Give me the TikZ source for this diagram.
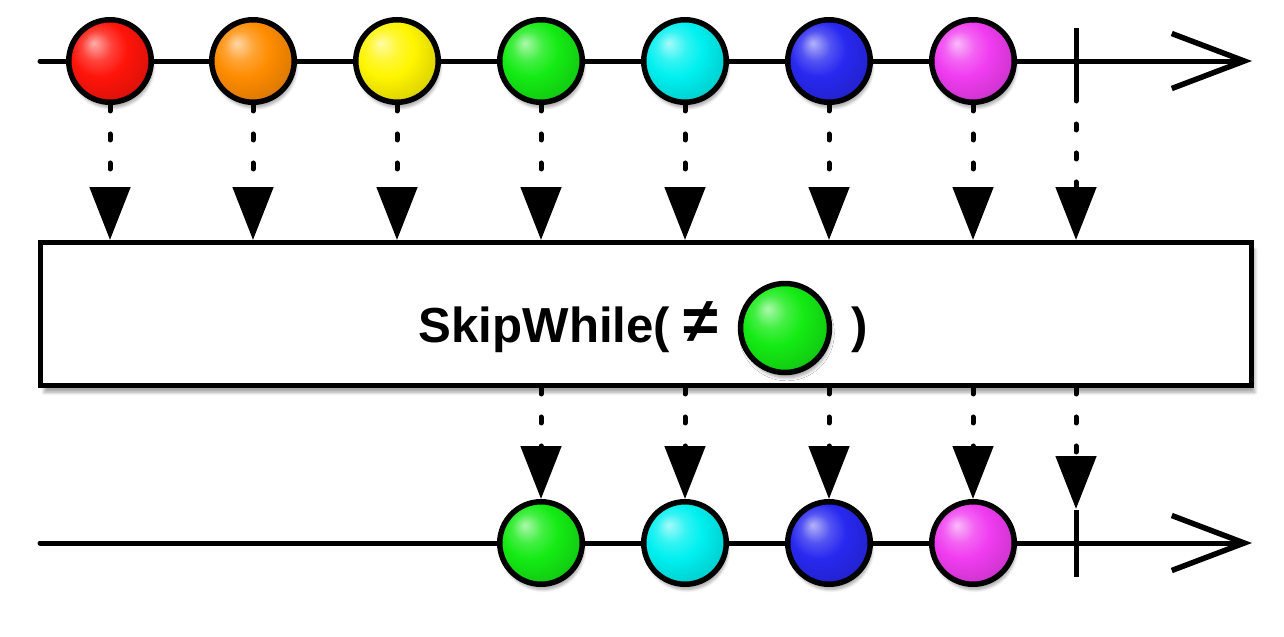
\documentclass[tikz,border=0pt]{standalone}
\usepackage{fontspec}
\setsansfont{Liberation Sans}
\usetikzlibrary{arrows.meta,shadows.blur}

\definecolor{mred}{RGB}{255,20,10}
\definecolor{morange}{RGB}{255,140,0}
\definecolor{myellow}{RGB}{255,245,0}
\definecolor{mgreen}{RGB}{20,235,20}
\definecolor{mcyan}{RGB}{0,240,240}
\definecolor{mblue}{RGB}{40,40,240}
\definecolor{mmagenta}{RGB}{240,60,240}

\makeatletter
\pgfdeclareradialshading[tikz@ball]{marble}{\pgfqpoint{-10bp}{11bp}}{%
  color(0bp)=(tikz@ball!35!white); color(9bp)=(tikz@ball!80!white);
  color(17bp)=(tikz@ball); color(28bp)=(tikz@ball!88!black);
  color(36bp)=(tikz@ball!62!black); color(50bp)=(tikz@ball!45!black)}
\makeatother

\tikzset{
    marble/.style={circle, draw=black, line width=0.11cm, minimum size=1.65cm, inner sep=0pt,
        ball color=#1, shading=marble,
        blur shadow={shadow xshift=1pt, shadow yshift=-3pt, shadow opacity=35, shadow blur steps=6}},
    timeline/.style={line width=0.1cm, line cap=round,
        -{Straight Barb[length=1.45cm, width=1.1cm, line width=0.11cm]}},
    tickline/.style={line width=0.1cm},
    flow/.style={line width=0.1cm, line cap=round, dash pattern=on 0.12cm off 0.46cm,
        -{Triangle[length=1.06cm, width=0.8cm]}},
    opbox/.style={draw, line width=0.1cm, fill=white, minimum width=24.22cm, minimum height=2.86cm,
        inner sep=0pt,
        blur shadow={shadow xshift=2pt, shadow yshift=-4pt, shadow opacity=35, shadow blur steps=8}},
    optext/.style={font=\sffamily\bfseries\fontsize{28}{32}\selectfont, inner sep=0pt}
}

\begin{document}
\begin{tikzpicture}[x=0.02cm, y=-0.02cm]
            \useasboundingbox (0,0) rectangle (1284,636);

            \coordinate (tstart) at (40,61);
            \coordinate (tend) at (1252,61);
            \coordinate (bstart) at (40,543);
            \coordinate (bend) at (1252,543);
            \coordinate (ttb) at (1076,95);
            \coordinate (btt) at (1076,509);

            \draw[timeline] (tstart) -- (tend);
            \draw[timeline] (bstart) -- (bend);
            \draw[tickline] (1076,28) -- (1076,95);
            \draw[tickline] (1076,510) -- (1076,577);

            \node[opbox] (op) at (646,314) {};
            \node[optext, anchor=base east] (lbl) at (719,342) {SkipWhile( {\fontsize{36}{40}\selectfont ≠}};
            \node[marble=mgreen, minimum size=1.78cm] (m0) at (785,328) {};
            \node[optext, anchor=base west] (rp) at (851,342) {)};

            \node[marble=mred] (t1) at (110,61) {};
            \node[marble=morange] (t2) at (253,61) {};
            \node[marble=myellow] (t3) at (397,61) {};
            \node[marble=mgreen] (t4) at (541,61) {};
            \node[marble=mcyan] (t5) at (685,61) {};
            \node[marble=mblue] (t6) at (829,61) {};
            \node[marble=mmagenta] (t7) at (973,61) {};

            \node[marble=mgreen] (b4) at (541,543) {};
            \node[marble=mcyan] (b5) at (685,543) {};
            \node[marble=mblue] (b6) at (829,543) {};
            \node[marble=mmagenta] (b7) at (973,543) {};

            \draw[flow] (t1.south) -- (t1 |- op.north);
            \draw[flow] (t2.south) -- (t2 |- op.north);
            \draw[flow] (t3.south) -- (t3 |- op.north);
            \draw[flow] (t4.south) -- (t4 |- op.north);
            \draw[flow] (t5.south) -- (t5 |- op.north);
            \draw[flow] (t6.south) -- (t6 |- op.north);
            \draw[flow] (t7.south) -- (t7 |- op.north);
            \draw[flow] (ttb) -- (ttb |- op.north);

            \draw[flow] (b4 |- op.south) -- (b4.north);
            \draw[flow] (b5 |- op.south) -- (b5.north);
            \draw[flow] (b6 |- op.south) -- (b6.north);
            \draw[flow] (b7 |- op.south) -- (b7.north);
            \draw[flow] (btt |- op.south) -- (btt);
        \end{tikzpicture}
\end{document}
